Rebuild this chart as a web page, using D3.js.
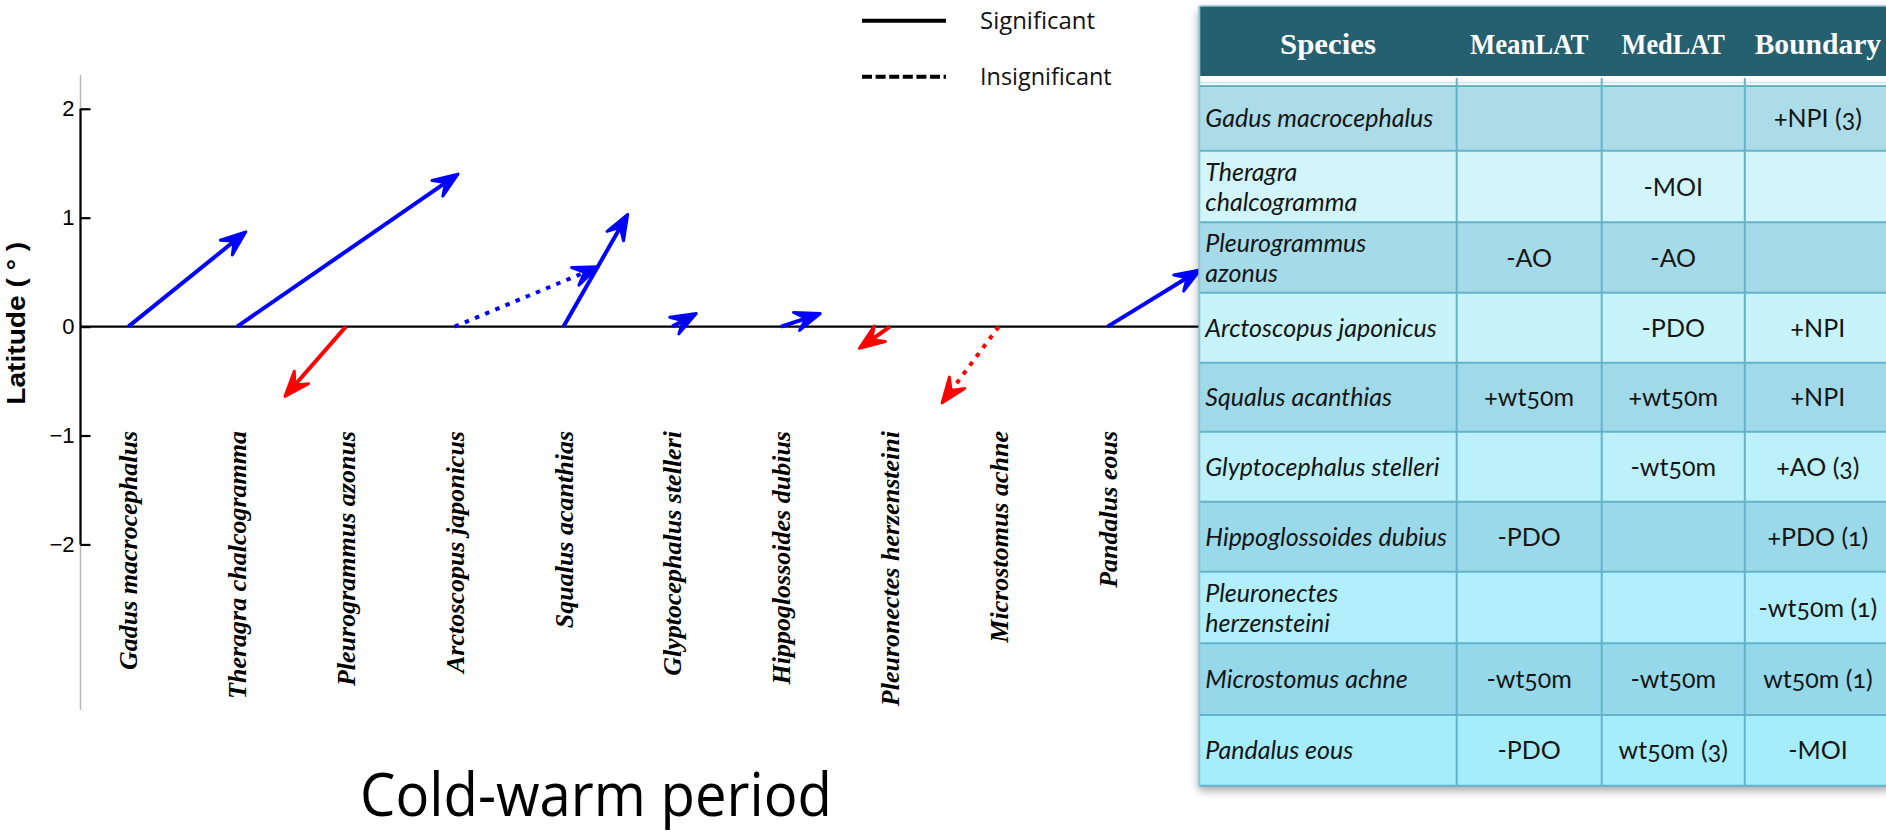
<!DOCTYPE html>
<html><head><meta charset="utf-8">
<script src="https://cdn.jsdelivr.net/npm/d3@7"></script>
<style>
html,body{margin:0;padding:0;background:#fff;}
svg{display:block;}
</style></head><body>
<svg id="c" width="1886" height="833"></svg>
<script>
// ---------------- data ----------------
const species = ["Gadus macrocephalus","Theragra chalcogramma","Pleurogrammus azonus","Arctoscopus japonicus","Squalus acanthias","Glyptocephalus stelleri","Hippoglossoides dubius","Pleuronectes herzensteini","Microstomus achne","Pandalus eous"];
const shiftX = [1.08, 2.03, -0.56, 1.32, 0.59, 0.22, 0.36, -0.28, -0.52, 0.85];
const shiftLat = [0.87, 1.40, -0.64, 0.55, 1.03, 0.12, 0.12, -0.20, -0.70, 0.52];
const significant = [true, true, true, false, true, true, true, true, false, true];
const yTicks = [2, 1, 0, -1, -2];
const legendLabels = ["Significant", "Insignificant"];
const xTitle = "Cold-warm period";
const yTitle = "Latitude ( \u00B0 )";
const tableHeaders = ["Species", "MeanLAT", "MedLAT", "Boundary"];
const tableSpeciesLines = [["Gadus macrocephalus"],["Theragra","chalcogramma"],["Pleurogrammus","azonus"],["Arctoscopus japonicus"],["Squalus acanthias"],["Glyptocephalus stelleri"],["Hippoglossoides dubius"],["Pleuronectes","herzensteini"],["Microstomus achne"],["Pandalus eous"]];
const meanLAT = ["", "", "-AO", "", "+wt50m", "", "-PDO", "", "-wt50m", "-PDO"];
const medLAT = ["", "-MOI", "-AO", "-PDO", "+wt50m", "-wt50m", "", "", "-wt50m", "wt50m (3)"];
const boundary = ["+NPI (3)", "", "", "+NPI", "+NPI", "+AO (3)", "+PDO (1)", "-wt50m (1)", "wt50m (1)", "-MOI"];

// ---------------- layout ----------------
const svg = d3.select("#c");
const x = d3.scaleLinear().domain([0, 9]).range([128.3, 1107.5]);
const y = d3.scaleLinear().domain([-3.52, 2.31]).range([710, 75]);
const axisX = 80.5;

const defs = svg.append("defs");
const f = defs.append("filter").attr("id","shadow").attr("x","-5%").attr("y","-5%").attr("width","115%").attr("height","115%");
f.append("feDropShadow").attr("dx",-1).attr("dy",5).attr("stdDeviation",4).attr("flood-color","#000").attr("flood-opacity",0.35);

// ---------------- axis ----------------
const gAxis = svg.append("g").attr("transform", `translate(${axisX},0)`);
gAxis.append("line").attr("x1",0).attr("x2",0).attr("y1",y.range()[1]).attr("y2",y.range()[0])
  .attr("stroke","#b8b8b8").attr("stroke-width",1.5);
gAxis.append("line").attr("x1",0).attr("x2",0).attr("y1",y(2)).attr("y2",y(-2))
  .attr("stroke","#000").attr("stroke-width",2.2);
const yAxis = d3.axisLeft(y).tickValues(yTicks).tickSize(-10).tickPadding(6).tickFormat(d3.format("d"));
const ga = gAxis.append("g").call(yAxis);
ga.select(".domain").remove();
ga.selectAll(".tick line").attr("stroke","#000").attr("stroke-width",2.2);
ga.selectAll(".tick text").attr("font-family","'Liberation Sans', Arial, sans-serif").attr("font-size",22).attr("fill","#000");

// zero line
svg.append("line").attr("x1",axisX).attr("x2",1200).attr("y1",y(0)).attr("y2",y(0))
  .attr("stroke","#000").attr("stroke-width",2.2);

// y title
svg.append("text").attr("transform",`translate(24.5,${323.3}) rotate(-90)`)
  .attr("text-anchor","middle").attr("font-family","'Liberation Sans', Arial, sans-serif")
  .attr("font-weight","bold").attr("font-size",25).attr("textLength",163).attr("lengthAdjust","spacingAndGlyphs")
  .attr("fill","#000").text(yTitle);

// category labels
svg.append("g").selectAll("text").data(species).join("text")
  .attr("transform",(d,i)=>`translate(${x(i)},431) rotate(-90)`)
  .attr("dy","0.35em").attr("text-anchor","end")
  .attr("font-family","'Liberation Serif', 'Times New Roman', serif")
  .attr("font-weight","bold").attr("font-style","italic").attr("font-size",26).attr("fill","#000")
  .text(d=>d);

// x title
svg.append("text").attr("x",596).attr("y",816).attr("text-anchor","middle")
  .attr("font-family","'Open Sans', sans-serif").attr("font-size",61).attr("textLength",472)
  .attr("lengthAdjust","spacingAndGlyphs").attr("fill","#000").text(xTitle);

// ---------------- arrows ----------------
const arrows = species.map((s,i)=>{
  const x0 = x(i), y0 = y(0), x1 = x(i+shiftX[i]), y1 = y(shiftLat[i]);
  const dx = x1-x0, dy = y1-y0, len = Math.hypot(dx,dy);
  const ux = dx/len, uy = dy/len, nx = -uy, ny = ux;
  const L = 25, W = 9.5, N = 15;
  return {x0,y0,x1,y1,
    nxp: x1-N*ux, nyp: y1-N*uy,
    b1: [x1-L*ux+W*nx, y1-L*uy+W*ny],
    b2: [x1-L*ux-W*nx, y1-L*uy-W*ny],
    color: shiftLat[i] >= 0 ? "#0000ff" : "#ff0000",
    sig: significant[i]};
});
const gArr = svg.append("g");
gArr.selectAll("line").data(arrows).join("line")
  .attr("x1",d=>d.x0).attr("y1",d=>d.y0).attr("x2",d=>d.nxp).attr("y2",d=>d.nyp)
  .attr("stroke",d=>d.color).attr("stroke-width",4)
  .attr("stroke-dasharray",d=>d.sig?null:"4.5,6.5");
gArr.selectAll("path").data(arrows).join("path")
  .attr("d",d=>`M${d.x1},${d.y1}L${d.b1[0]},${d.b1[1]}L${d.nxp},${d.nyp}L${d.b2[0]},${d.b2[1]}Z`)
  .attr("fill",d=>d.color).attr("stroke",d=>d.color).attr("stroke-width",3).attr("stroke-linejoin","round");

// ---------------- legend ----------------
const legY = [20.7, 76.7];
const gLeg = svg.append("g");
gLeg.selectAll("line").data(legendLabels).join("line")
  .attr("x1",862).attr("x2",946).attr("y1",(d,i)=>legY[i]).attr("y2",(d,i)=>legY[i])
  .attr("stroke","#000").attr("stroke-width",4)
  .attr("stroke-dasharray",(d,i)=>i===0?null:"10,3.6");
const legW = [115, 131.7];
gLeg.selectAll("text").data(legendLabels).join("text")
  .attr("x",980).attr("y",(d,i)=>legY[i]+7.8)
  .attr("font-family","'Open Sans', sans-serif").attr("font-size",23)
  .attr("textLength",(d,i)=>legW[i]).attr("lengthAdjust","spacingAndGlyphs")
  .attr("fill","#111").text(d=>d);

// ---------------- table ----------------
const tblX = 1199.3;
const colW = [257.4, 145, 143.1, 146.2];
const colX = [tblX]; colW.forEach((w,i)=>colX.push(colX[i]+w));
const headerTop = 6, headerBottom = 76, bodyTop = 86;
const rowH = [64.7,71.6,70.4,70,69,70,70,71.6,71.7,70.7];
const rowY = [bodyTop]; rowH.forEach((h,i)=>rowY.push(rowY[i]+h));
const tblRight = colX[4];
const gT = svg.append("g");
gT.append("rect").attr("x",tblX).attr("y",headerTop).attr("width",tblRight-tblX).attr("height",rowY[10]-headerTop)
  .attr("fill","#fff").attr("filter","url(#shadow)");
gT.append("rect").attr("x",tblX).attr("y",headerTop).attr("width",tblRight-tblX).attr("height",headerBottom-headerTop)
  .attr("fill","#246070");
gT.append("line").attr("x1",tblX).attr("x2",tblRight).attr("y1",82.7).attr("y2",82.7).attr("stroke","#cfe5ec").attr("stroke-width",1.5);

const darkC = d3.interpolateRgb("#abdce8", "#92d7ea");
const lightC = d3.interpolateRgb("#d8f6fb", "#a6edfc");
gT.selectAll("rect.row").data(tableSpeciesLines).join("rect").attr("class","row")
  .attr("x",tblX).attr("y",(d,i)=>rowY[i]).attr("width",tblRight-tblX).attr("height",(d,i)=>rowH[i])
  .attr("fill",(d,i)=> i%2===0 ? darkC(i/9) : lightC(i/9));

// grid lines
const gridC = "#62b3cb";
gT.selectAll("line.h").data(rowY).join("line").attr("class","h")
  .attr("x1",tblX).attr("x2",tblRight).attr("y1",d=>d).attr("y2",d=>d)
  .attr("stroke",gridC).attr("stroke-width",2);
gT.selectAll("line.v").data(colX).join("line").attr("class","v")
  .attr("x1",d=>d).attr("x2",d=>d).attr("y1",(d,i)=>i===0?headerTop:78).attr("y2",rowY[10])
  .attr("stroke",(d,i)=>i===0?"#8cc6d6":gridC).attr("stroke-width",2);
gT.append("line").attr("x1",tblX).attr("x2",tblRight).attr("y1",headerTop).attr("y2",headerTop)
  .attr("stroke","#8cc6d6").attr("stroke-width",1.5);

// header text
const headW = [96, 118.5, 103.4, 126.5];
gT.selectAll("text.hd").data(tableHeaders).join("text").attr("class","hd")
  .attr("x",(d,i)=>(colX[i]+colX[i+1])/2).attr("y",54).attr("text-anchor","middle")
  .attr("font-family","'Liberation Serif', 'Times New Roman', serif").attr("font-weight","bold").attr("font-size",30)
  .attr("textLength",(d,i)=>headW[i]).attr("lengthAdjust","spacingAndGlyphs")
  .attr("fill","#fff").text(d=>d);

// body text
const bodyFont = "Lato, 'Open Sans', sans-serif";
const rowsG = gT.selectAll("g.r").data(tableSpeciesLines).join("g").attr("class","r");
rowsG.each(function(lines,i){
  const g = d3.select(this);
  const cy = rowY[i] + rowH[i]/2;
  const t = g.append("text").attr("x",colX[0]+6).attr("font-family",bodyFont).attr("font-style","italic")
    .attr("font-size",25).attr("fill","#151515").style("font-variant-numeric","oldstyle-nums");
  if (lines.length === 1) {
    t.attr("y", cy+9).text(lines[0]);
  } else {
    lines.forEach((ln,k)=> t.append("tspan").attr("x",colX[0]+6).attr("y",cy-6+30*k).text(ln));
  }
  [meanLAT[i], medLAT[i], boundary[i]].forEach((v,c)=>{
    if (!v) return;
    g.append("text").attr("x",(colX[c+1]+colX[c+2])/2).attr("y",cy+9).attr("text-anchor","middle")
      .attr("font-family",bodyFont).attr("font-size",25).attr("fill","#151515")
      .style("font-variant-numeric","oldstyle-nums").text(v);
  });
});
</script>
</body></html>
